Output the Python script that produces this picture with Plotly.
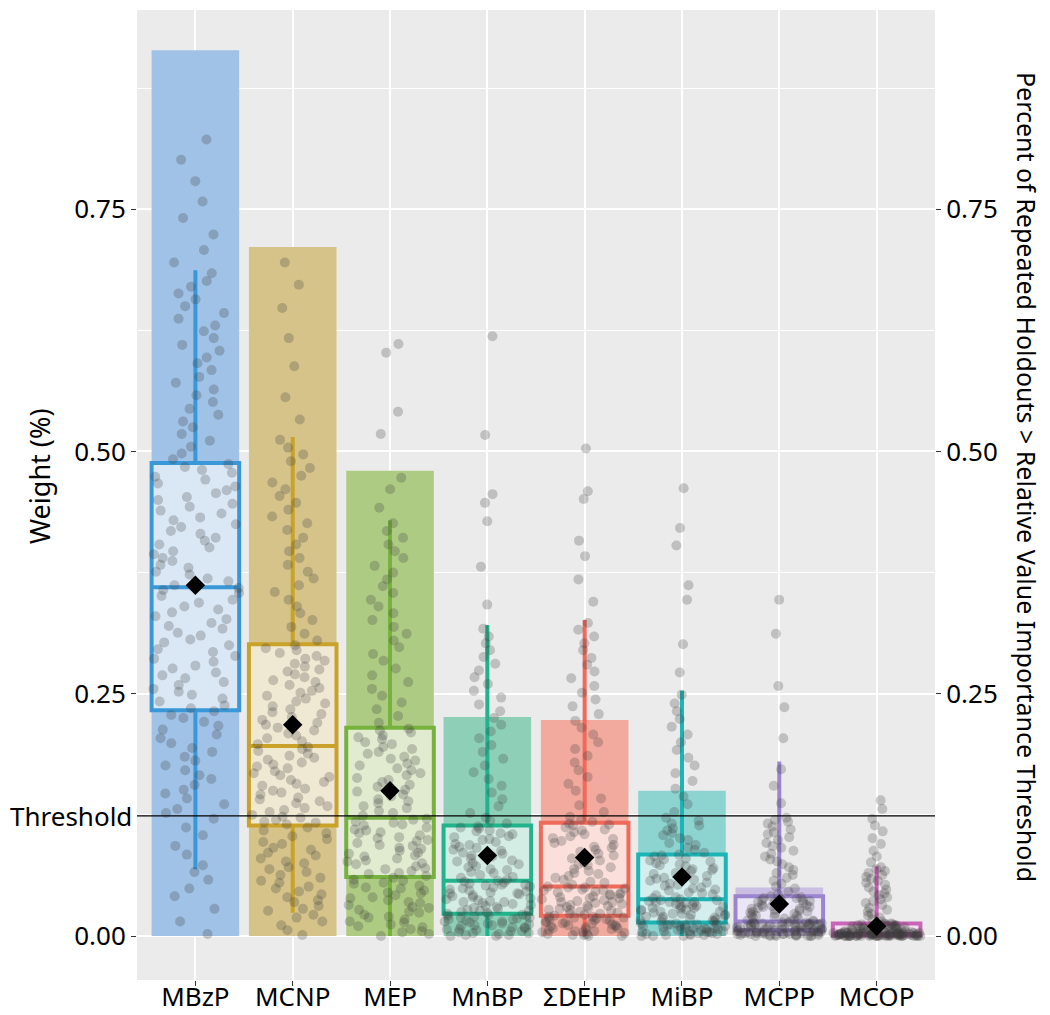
import plotly.graph_objects as go

categories = ["MBzP", "MCNP", "MEP", "MnBP", "ΣDEHP", "MiBP", "MCPP", "MCOP"]

# Percent of repeated holdouts above threshold (bars)
pct_above = [0.914, 0.711, 0.480, 0.226, 0.223, 0.150, 0.050, 0.012]

# Box statistics of weights
q1 = [0.233, 0.114, 0.061, 0.023, 0.021, 0.014, 0.006, 0.0005]
median = [0.360, 0.196, 0.122, 0.057, 0.051, 0.038, 0.015, 0.002]
q3 = [0.488, 0.301, 0.215, 0.114, 0.117, 0.084, 0.041, 0.013]
lower_whisker = [0.069, 0.024, 0.0, 0.0, 0.0, 0.0, 0.0, 0.0]
upper_whisker = [0.687, 0.515, 0.429, 0.321, 0.326, 0.253, 0.180, 0.072]
mean_weight = [0.362, 0.218, 0.150, 0.083, 0.081, 0.061, 0.033, 0.010]

threshold = 0.124
y_ticks = [0.0, 0.25, 0.50, 0.75]
y_tick_text = ["0.00", "0.25", "0.50", "0.75"]

# Individual holdout weights (approximate readings of the point clouds)
w_mbzp = [0.002, 0.015, 0.028, 0.041, 0.049, 0.058, 0.066,
          0.073, 0.084, 0.093, 0.104, 0.112, 0.121,
          0.127, 0.131, 0.136, 0.142, 0.147, 0.151, 0.156, 0.162, 0.166, 0.171, 0.176, 0.181,
          0.185, 0.190, 0.194, 0.199, 0.204, 0.208, 0.213, 0.217, 0.221, 0.225, 0.228, 0.232,
          0.235, 0.238, 0.242, 0.245, 0.249, 0.252, 0.255, 0.259, 0.262, 0.266, 0.269, 0.272,
          0.276, 0.279, 0.283, 0.286, 0.289, 0.293, 0.296, 0.300, 0.303, 0.306, 0.310, 0.313,
          0.317, 0.320, 0.323, 0.327, 0.330, 0.334, 0.337, 0.340, 0.344, 0.347, 0.351, 0.354,
          0.357, 0.359,
          0.362, 0.366, 0.369, 0.373, 0.376, 0.380, 0.383, 0.387, 0.390, 0.394, 0.397, 0.401,
          0.404, 0.408, 0.411, 0.415, 0.418, 0.422, 0.425, 0.429, 0.432, 0.436, 0.439, 0.443,
          0.446, 0.450, 0.453, 0.457, 0.460, 0.464, 0.467, 0.471, 0.474, 0.478, 0.481, 0.484, 0.487,
          0.492, 0.498, 0.505, 0.511, 0.518, 0.525, 0.531, 0.538, 0.544, 0.551, 0.558, 0.564,
          0.571, 0.577, 0.584, 0.591, 0.597, 0.604, 0.610, 0.617, 0.624, 0.630, 0.637, 0.643,
          0.650, 0.657, 0.663, 0.670, 0.676, 0.684,
          0.695, 0.708, 0.724, 0.741, 0.758, 0.779, 0.801, 0.822]

w_mcnp = [0.001, 0.006, 0.011, 0.015, 0.019, 0.022,
          0.026, 0.028, 0.031, 0.035, 0.037, 0.040, 0.043, 0.046, 0.049, 0.051, 0.055, 0.057,
          0.060, 0.063, 0.066, 0.069, 0.071, 0.075, 0.077, 0.080, 0.083, 0.086, 0.089, 0.091,
          0.095, 0.097, 0.100, 0.103, 0.106, 0.109, 0.112,
          0.115, 0.117, 0.118, 0.120, 0.122, 0.123,
          0.125, 0.128, 0.130, 0.132, 0.134, 0.137, 0.139, 0.141, 0.143, 0.146, 0.148, 0.150,
          0.152, 0.155, 0.157, 0.159, 0.161, 0.164, 0.166, 0.168, 0.170, 0.173, 0.175, 0.177,
          0.179, 0.182, 0.184, 0.186, 0.188, 0.191, 0.193, 0.195,
          0.198, 0.201, 0.204, 0.207, 0.209, 0.212, 0.215, 0.218, 0.220, 0.223, 0.226, 0.229,
          0.231, 0.234, 0.237, 0.240, 0.242, 0.245, 0.248, 0.251, 0.253, 0.256, 0.259, 0.262,
          0.264, 0.267, 0.270, 0.273, 0.275, 0.278, 0.281, 0.284, 0.286, 0.289, 0.292, 0.295,
          0.297, 0.300,
          0.305, 0.312, 0.319, 0.326, 0.333, 0.340, 0.347, 0.355, 0.362, 0.369, 0.376, 0.383,
          0.390, 0.397, 0.404, 0.411, 0.419, 0.426, 0.433, 0.440, 0.447, 0.454, 0.461, 0.468,
          0.475, 0.483, 0.490, 0.497, 0.504, 0.512,
          0.533, 0.556, 0.588, 0.617, 0.648, 0.672, 0.695]

w_mep = [0.000, 0.002, 0.004, 0.005, 0.007, 0.009, 0.010, 0.012, 0.014, 0.015, 0.017, 0.019,
         0.020, 0.022, 0.024, 0.025, 0.027, 0.029, 0.030, 0.032, 0.034, 0.035, 0.037, 0.039,
         0.040, 0.042, 0.044, 0.045, 0.047, 0.049, 0.050, 0.052, 0.054, 0.055, 0.057, 0.058, 0.060,
         0.062, 0.064, 0.065, 0.067, 0.069, 0.070, 0.072, 0.074, 0.075, 0.077, 0.078, 0.080,
         0.082, 0.083, 0.085, 0.086, 0.088, 0.090, 0.091, 0.093, 0.094, 0.096, 0.098, 0.099,
         0.101, 0.102, 0.104, 0.106, 0.107, 0.109, 0.110, 0.112, 0.114, 0.115, 0.117, 0.118,
         0.120, 0.121,
         0.124, 0.127, 0.129, 0.132, 0.134, 0.137, 0.139, 0.141, 0.144, 0.146, 0.149, 0.151,
         0.154, 0.156, 0.159, 0.161, 0.163, 0.166, 0.168, 0.171, 0.173, 0.176, 0.178, 0.181,
         0.183, 0.185, 0.188, 0.190, 0.193, 0.195, 0.198, 0.200, 0.203, 0.205, 0.207, 0.210,
         0.212, 0.214,
         0.220, 0.227, 0.234, 0.241, 0.248, 0.255, 0.262, 0.269, 0.276, 0.284, 0.291, 0.298,
         0.305, 0.312, 0.319, 0.326, 0.333, 0.340, 0.347, 0.354, 0.361, 0.368, 0.375, 0.382,
         0.390, 0.397, 0.404, 0.411, 0.418, 0.426,
         0.442, 0.461, 0.473, 0.518, 0.541, 0.602, 0.611]

w_mnbp = [0.000, 0.000, 0.001, 0.001, 0.002, 0.003, 0.003, 0.004, 0.005, 0.005, 0.006, 0.007,
          0.007, 0.008, 0.009, 0.009, 0.010, 0.011, 0.011, 0.012, 0.013, 0.013, 0.014, 0.015,
          0.015, 0.016, 0.017, 0.017, 0.018, 0.019, 0.019, 0.020, 0.021, 0.021, 0.022, 0.022, 0.023,
          0.024, 0.025, 0.026, 0.026, 0.027, 0.028, 0.029, 0.030, 0.031, 0.032, 0.033, 0.034,
          0.035, 0.035, 0.036, 0.037, 0.038, 0.039, 0.040, 0.041, 0.042, 0.043, 0.044, 0.044,
          0.045, 0.046, 0.047, 0.048, 0.049, 0.050, 0.051, 0.052, 0.053, 0.053, 0.054, 0.055,
          0.056, 0.057,
          0.058, 0.060, 0.061, 0.063, 0.065, 0.066, 0.068, 0.069, 0.071, 0.072, 0.074, 0.075,
          0.077, 0.078, 0.080, 0.082, 0.083, 0.085, 0.086, 0.088, 0.089, 0.091, 0.092, 0.094,
          0.095, 0.097, 0.099, 0.100, 0.102, 0.103, 0.105, 0.106, 0.108, 0.109, 0.111, 0.112, 0.113,
          0.116, 0.119, 0.122,
          0.127, 0.134, 0.141, 0.148, 0.155, 0.162, 0.169, 0.176, 0.183, 0.190, 0.197, 0.204,
          0.211, 0.218, 0.225, 0.232, 0.239, 0.246, 0.253, 0.260, 0.267, 0.274, 0.281, 0.288,
          0.295, 0.302, 0.309, 0.317,
          0.342, 0.381, 0.428, 0.447, 0.456, 0.517, 0.619]

w_dehp = [0.000, 0.000, 0.001, 0.001, 0.002, 0.002, 0.003, 0.004, 0.004, 0.005, 0.005, 0.006,
          0.007, 0.007, 0.008, 0.008, 0.009, 0.010, 0.010, 0.011, 0.011, 0.012, 0.013, 0.013,
          0.014, 0.014, 0.015, 0.016, 0.016, 0.017, 0.017, 0.018, 0.019, 0.019, 0.020, 0.020, 0.021,
          0.022, 0.023, 0.023, 0.024, 0.025, 0.026, 0.027, 0.027, 0.028, 0.029, 0.030, 0.031,
          0.031, 0.032, 0.033, 0.034, 0.035, 0.035, 0.036, 0.037, 0.038, 0.039, 0.039, 0.040,
          0.041, 0.042, 0.043, 0.043, 0.044, 0.045, 0.046, 0.047, 0.047, 0.048, 0.049, 0.050,
          0.050, 0.051,
          0.053, 0.055, 0.056, 0.058, 0.060, 0.062, 0.064, 0.065, 0.067, 0.069, 0.071, 0.073,
          0.074, 0.076, 0.078, 0.080, 0.082, 0.083, 0.085, 0.087, 0.089, 0.091, 0.092, 0.094,
          0.096, 0.098, 0.100, 0.101, 0.103, 0.105, 0.107, 0.109, 0.110, 0.112, 0.114, 0.115, 0.116,
          0.118, 0.120, 0.123,
          0.128, 0.135, 0.142, 0.150, 0.157, 0.164, 0.171, 0.179, 0.186, 0.193, 0.200, 0.208,
          0.215, 0.222, 0.229, 0.237, 0.244, 0.251, 0.258, 0.266, 0.273, 0.280, 0.287, 0.295,
          0.302, 0.309, 0.316, 0.323,
          0.345, 0.368, 0.392, 0.408, 0.451, 0.459, 0.503]

w_mibp = [0.000, 0.000, 0.000, 0.001, 0.001, 0.001, 0.002, 0.002, 0.002, 0.003, 0.003,
          0.004, 0.004, 0.004, 0.005, 0.005, 0.005, 0.006, 0.006, 0.007, 0.007, 0.007,
          0.008, 0.008, 0.008, 0.009, 0.009, 0.010, 0.010, 0.010, 0.011, 0.011, 0.012,
          0.012, 0.012, 0.013, 0.013,
          0.015, 0.015, 0.016, 0.016, 0.017, 0.018, 0.018, 0.019, 0.020, 0.020, 0.021, 0.022,
          0.022, 0.023, 0.023, 0.024, 0.025, 0.025, 0.026, 0.027, 0.027, 0.028, 0.029, 0.029,
          0.030, 0.030, 0.031, 0.032, 0.032, 0.033, 0.034, 0.034, 0.035, 0.035, 0.036, 0.037,
          0.037, 0.038,
          0.039, 0.040, 0.042, 0.043, 0.044, 0.045, 0.047, 0.048, 0.049, 0.050, 0.052, 0.053,
          0.054, 0.055, 0.057, 0.058, 0.059, 0.060, 0.062, 0.063, 0.064, 0.065, 0.067, 0.068,
          0.069, 0.070, 0.072, 0.073, 0.074, 0.075, 0.077, 0.078, 0.079, 0.080, 0.082, 0.083, 0.084,
          0.086, 0.089, 0.091, 0.094, 0.096, 0.099, 0.101, 0.104, 0.106, 0.109, 0.111, 0.114,
          0.116, 0.119, 0.122,
          0.128, 0.136, 0.144, 0.152, 0.160, 0.168, 0.176, 0.184, 0.192, 0.200, 0.208, 0.216,
          0.224, 0.232, 0.240, 0.249,
          0.272, 0.301, 0.347, 0.362, 0.403, 0.421, 0.462]

w_mcpp = [0.000, 0.000, 0.000, 0.000, 0.000, 0.000, 0.000, 0.001, 0.001, 0.001, 0.001, 0.001,
          0.001, 0.002, 0.002, 0.002, 0.002, 0.002, 0.002, 0.003, 0.003, 0.003, 0.003, 0.003,
          0.003, 0.004, 0.004, 0.004, 0.004, 0.004, 0.004, 0.005, 0.005, 0.005, 0.005, 0.005, 0.005,
          0.006, 0.006, 0.006, 0.006, 0.007, 0.007, 0.007, 0.007, 0.008, 0.008, 0.008, 0.008,
          0.009, 0.009, 0.009, 0.009, 0.010, 0.010, 0.010, 0.010, 0.011, 0.011, 0.011, 0.011,
          0.012, 0.012, 0.012, 0.012, 0.013, 0.013, 0.013, 0.013, 0.014, 0.014, 0.014, 0.014,
          0.015, 0.015,
          0.016, 0.016, 0.017, 0.018, 0.018, 0.019, 0.020, 0.021, 0.021, 0.022, 0.023, 0.023,
          0.024, 0.025, 0.025, 0.026, 0.027, 0.028, 0.028, 0.029, 0.030, 0.030, 0.031, 0.032,
          0.032, 0.033, 0.034, 0.035, 0.035, 0.036, 0.037, 0.037, 0.038, 0.039, 0.039, 0.040, 0.041,
          0.043, 0.046, 0.049, 0.051, 0.054, 0.057, 0.060, 0.063, 0.065, 0.068, 0.071, 0.074,
          0.077, 0.079, 0.082, 0.085, 0.088, 0.091, 0.093, 0.096, 0.099, 0.102, 0.105, 0.107,
          0.110, 0.113, 0.116, 0.118, 0.120, 0.122,
          0.137, 0.155, 0.172,
          0.204, 0.236, 0.258, 0.312, 0.347]

w_mcop = [0.000, 0.000, 0.000, 0.000, 0.000, 0.000, 0.000, 0.000, 0.000, 0.000, 0.000, 0.000,
          0.000, 0.000, 0.000, 0.000, 0.000, 0.000, 0.000, 0.000, 0.000, 0.000, 0.000, 0.000,
          0.000, 0.001, 0.001, 0.001, 0.001, 0.001, 0.001, 0.001, 0.001, 0.001, 0.001, 0.001, 0.001,
          0.001, 0.001, 0.001, 0.001, 0.001, 0.001, 0.002, 0.002, 0.002, 0.002, 0.002, 0.002,
          0.002, 0.002, 0.002, 0.002, 0.002, 0.002, 0.002, 0.002, 0.002, 0.002, 0.003, 0.003,
          0.003, 0.003, 0.003, 0.003, 0.003, 0.003, 0.003, 0.003, 0.003, 0.003, 0.003, 0.003,
          0.003, 0.003,
          0.004, 0.004, 0.004, 0.004, 0.005, 0.005, 0.005, 0.005, 0.006, 0.006, 0.006, 0.006,
          0.007, 0.007, 0.007, 0.007, 0.008, 0.008, 0.008, 0.008, 0.009, 0.009, 0.009, 0.009,
          0.010, 0.010, 0.010, 0.010, 0.011, 0.011, 0.011, 0.011, 0.012, 0.012, 0.012, 0.013, 0.013,
          0.015, 0.017, 0.019, 0.021, 0.023, 0.025, 0.027, 0.029, 0.032, 0.034, 0.036, 0.038,
          0.040, 0.042, 0.044, 0.046, 0.048, 0.050, 0.053, 0.055, 0.057, 0.059, 0.061, 0.063,
          0.065, 0.067, 0.069, 0.071,
          0.076, 0.082, 0.088, 0.095, 0.101, 0.108, 0.114, 0.121,
          0.131, 0.140]

weights = [w_mbzp, w_mcnp, w_mep, w_mnbp, w_dehp, w_mibp, w_mcpp, w_mcop]

# Styling
outline_colors = ["#3A98D8", "#C9A22A", "#78B23E", "#22B38C", "#F06A5C", "#1CB5B5", "#9C85CF", "#C965B8"]
bar_colors = ["#9FC2E6", "#D6C38A", "#AECB83", "#8ED0B7", "#F2AA9E", "#8DD3D0", "#CBBEE3", "#E3B2D8"]
FONT = "Noto Sans"
Y_RANGE = [-0.0454, 0.9556]

fig = go.Figure()

fig.add_trace(go.Bar(
    x=categories, y=pct_above, marker=dict(color=bar_colors, line=dict(width=0)),
    width=0.9, showlegend=False, hoverinfo="x+y", name="percent above threshold",
))

for i, cat in enumerate(categories):
    fig.add_trace(go.Box(
        x=[cat], q1=[q1[i]], median=[median[i]], q3=[q3[i]],
        lowerfence=[lower_whisker[i]], upperfence=[upper_whisker[i]],
        fillcolor="rgba(255,255,255,0.62)", line=dict(color=outline_colors[i], width=4),
        whiskerwidth=0, width=0.9, boxpoints=False, showlegend=False, name=cat,
    ))

pt_x = []
pt_y = []
for cat, vals in zip(categories, weights):
    pt_x.extend([cat] * len(vals))
    pt_y.extend(vals)

fig.add_trace(go.Box(
    x=pt_x, y=pt_y, boxpoints="all", jitter=1, pointpos=0, width=0.9,
    fillcolor="rgba(0,0,0,0)", line=dict(width=0, color="rgba(0,0,0,0)"),
    marker=dict(color="rgba(60,60,60,0.25)", size=10),
    showlegend=False, hoveron="points", name="holdouts",
))

fig.add_trace(go.Scatter(
    x=categories, y=mean_weight, mode="markers",
    marker=dict(symbol="diamond", size=15, color="black"),
    showlegend=False, name="mean",
))

# empty trace that anchors the right-hand axis
fig.add_trace(go.Scatter(x=[], y=[], yaxis="y2", showlegend=False, hoverinfo="skip"))

fig.add_shape(type="line", xref="paper", x0=0, x1=1, yref="y", y0=threshold, y1=threshold,
              line=dict(color="black", width=1.2))

fig.add_annotation(text="Threshold", xref="paper", x=0, xanchor="right", xshift=-3,
                   yref="y", y=threshold, yanchor="middle", showarrow=False,
                   font=dict(family=FONT, size=26, color="black"))
fig.add_annotation(text="Weight (%)", xref="paper", x=0, xshift=-97, xanchor="center",
                   yref="paper", y=0.5186, yanchor="middle", textangle=-90, showarrow=False,
                   font=dict(family=FONT, size=27, color="black"))
fig.add_annotation(text="Percent of Repeated Holdouts > Relative Value Importance Threshold",
                   xref="paper", x=1, xshift=92, xanchor="center",
                   yref="paper", y=0.5186, yanchor="middle", textangle=90, showarrow=False,
                   font=dict(family=FONT, size=25, color="black"))

axis_common = dict(
    range=Y_RANGE, tickmode="array", tickvals=y_ticks, ticktext=y_tick_text,
    ticks="outside", ticklen=5, tickwidth=1.2, tickcolor="#333333",
    tickfont=dict(family=FONT, size=26, color="black"), zeroline=False, showline=False,
    automargin=False, fixedrange=True,
)

fig.update_layout(
    width=1050, height=1015,
    margin=dict(l=137, r=115, t=10, b=35),
    paper_bgcolor="white", plot_bgcolor="#EBEBEB",
    barmode="overlay", boxmode="overlay",
    showlegend=False,
    xaxis=dict(
        type="category", categoryorder="array", categoryarray=categories,
        range=[-0.6, 7.6], showgrid=True, gridcolor="white", gridwidth=1.6,
        ticks="outside", ticklen=5, tickwidth=1.2, tickcolor="#333333",
        tickfont=dict(family=FONT, size=26, color="black"), ticklabelstandoff=-11,
        zeroline=False, showline=False, automargin=False, fixedrange=True,
    ),
    yaxis=dict(
        **axis_common, showgrid=True, gridcolor="white", gridwidth=1.6,
        minor=dict(tickvals=[0.125, 0.375, 0.625, 0.875], showgrid=True,
                   gridcolor="white", gridwidth=0.8, ticks=""),
    ),
    yaxis2=dict(**axis_common, overlaying="y", side="right", showgrid=False),
)

fig.write_html(
    "out.html",
    config={"displayModeBar": False},
    post_script="document.body.style.margin='0';document.body.style.overflow='hidden';",
)
